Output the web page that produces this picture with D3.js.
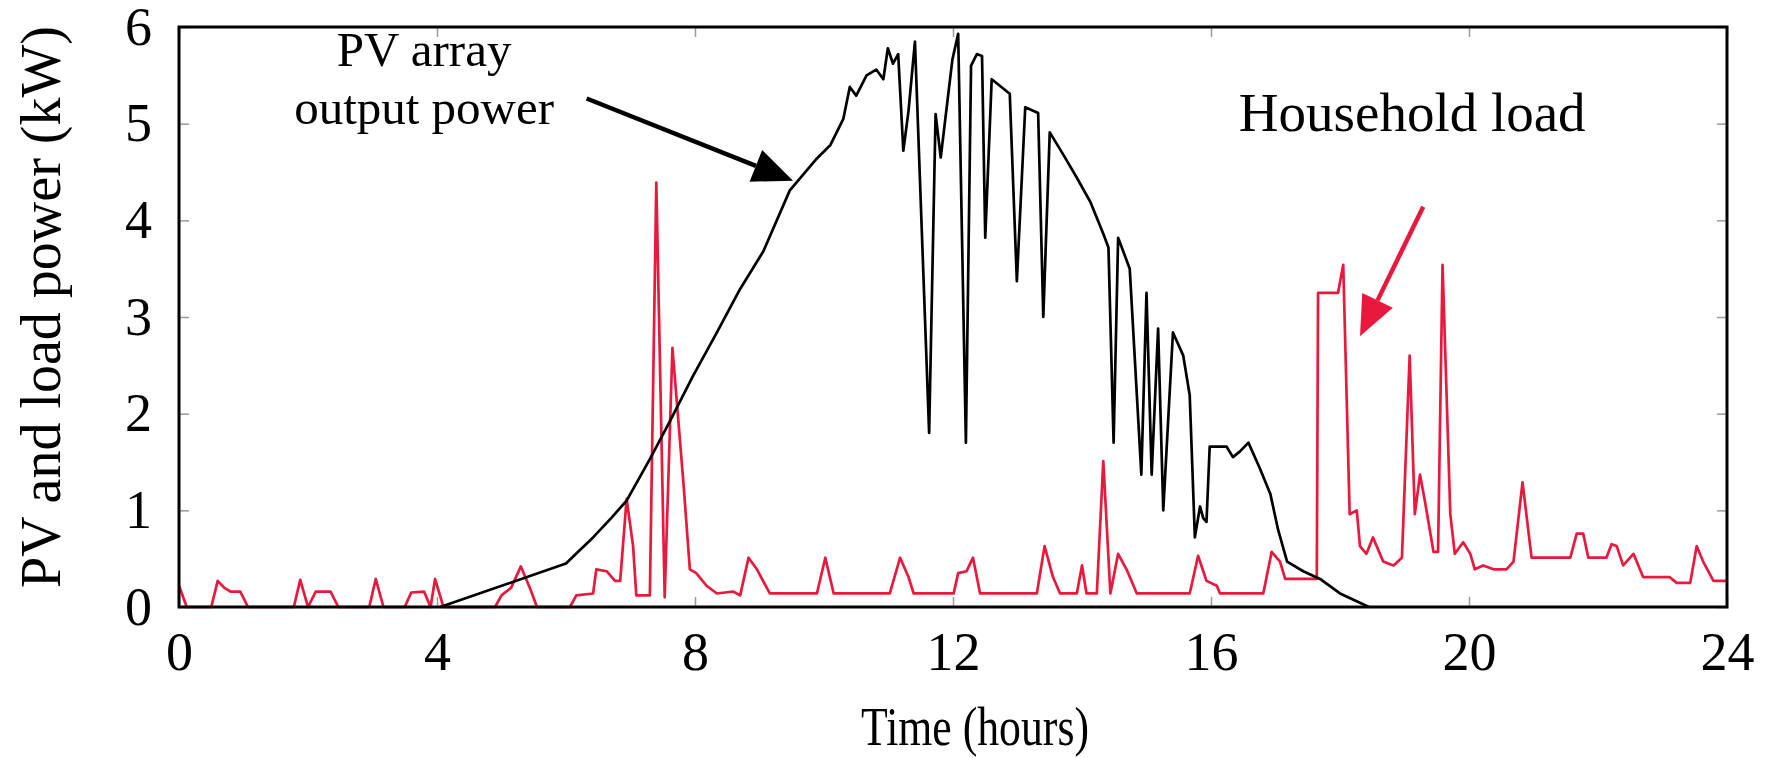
<!DOCTYPE html>
<html>
<head>
<meta charset="utf-8">
<script src="https://cdn.jsdelivr.net/npm/d3@7"></script>
<style>
  body { margin: 0; background: #fff; }
  svg text { font-family: "Liberation Serif", "DejaVu Serif", serif; }
</style>
</head>
<body>
<svg id="chart"></svg>
<script>
// PV array output power (kW) vs time (hours)
const pvTime = [4.05, 6.0, 6.2, 6.42, 6.7, 6.94, 7.3, 7.61, 7.97, 8.34, 8.7, 9.06, 9.47, 9.89, 10.1, 10.3, 10.4, 10.5,
  10.66, 10.81, 10.92, 10.99, 11.07, 11.15, 11.23, 11.31, 11.41, 11.63, 11.73, 11.81, 11.99, 12.08, 12.2, 12.28, 12.37,
  12.45, 12.5, 12.6, 12.88, 12.99, 13.12, 13.32, 13.4, 13.5, 13.71, 13.92, 14.13, 14.33, 14.41, 14.49, 14.56, 14.74,
  14.92, 15.0, 15.08, 15.18, 15.26, 15.41, 15.57, 15.67, 15.75, 15.83, 15.88, 15.93, 15.98, 16.24, 16.34, 16.45, 16.58,
  16.76, 16.92, 17.04, 17.18, 17.43, 17.69, 18.0, 18.45];
const pvKW = [0, 0.45, 0.58, 0.72, 0.92, 1.1, 1.53, 1.92, 2.39, 2.84, 3.29, 3.68, 4.31, 4.64, 4.78, 5.05, 5.38, 5.29,
  5.5, 5.56, 5.46, 5.78, 5.62, 5.72, 4.72, 5.13, 5.85, 1.8, 5.1, 4.65, 5.66, 5.93, 1.7, 5.6, 5.72,
  5.7, 3.82, 5.46, 5.31, 3.37, 5.17, 5.11, 3.0, 4.91, 4.68, 4.44, 4.19, 3.86, 3.72, 1.7, 3.82, 3.5,
  1.37, 3.25, 1.37, 2.88, 1.0, 2.84, 2.6, 2.19, 0.72, 1.04, 0.92, 0.88, 1.66, 1.66, 1.55, 1.61, 1.7,
  1.43, 1.17, 0.8, 0.47, 0.37, 0.29, 0.14, 0];

// household load (kW) vs time (hours)
const loadTime = [0, 0.12, 0.5, 0.6, 0.7, 0.8, 0.95, 1.07, 1.78, 1.88, 2.0, 2.12, 2.35, 2.47, 2.95, 3.05, 3.17, 3.5,
  3.6, 3.8, 3.9, 3.97, 4.1, 4.9, 5.0, 5.15, 5.3, 5.45, 5.55, 6.06, 6.16, 6.42, 6.47, 6.63, 6.76, 6.84, 6.94, 7.04,
  7.09, 7.3, 7.4, 7.53, 7.65, 7.82, 7.92, 8.02, 8.18, 8.34, 8.59, 8.7, 8.83, 8.96, 9.16, 9.89, 10.02, 10.15, 11.02,
  11.18, 11.31, 11.39, 12.01, 12.08, 12.21, 12.31, 12.42, 13.3, 13.42, 13.55, 13.66, 13.92, 14.0, 14.07, 14.23, 14.33,
  14.44, 14.56, 14.69, 14.85, 15.67, 15.8, 15.93, 16.09, 16.14, 16.81, 16.94, 17.07, 17.15, 17.64, 17.66, 17.97, 18.05,
  18.15, 18.26, 18.31, 18.41, 18.51, 18.67, 18.83, 18.96, 19.08, 19.16, 19.24, 19.32, 19.45, 19.52, 19.59, 19.71, 19.78,
  19.91, 20.02, 20.09, 20.22, 20.38, 20.58, 20.69, 20.83, 20.97, 21.57, 21.67, 21.77, 21.85, 22.13, 22.21, 22.29, 22.39,
  22.55, 22.65, 22.7, 23.11, 23.22, 23.43, 23.53, 23.63, 23.79, 24.0];
const loadKW = [0.22, 0, 0, 0.27, 0.2, 0.16, 0.16, 0, 0, 0.28, 0, 0.16, 0.16, 0, 0, 0.29, 0, 0,
  0.15, 0.16, 0, 0.29, 0, 0, 0.12, 0.2, 0.42, 0.18, 0, 0, 0.12, 0.14, 0.39, 0.37, 0.27, 0.27, 1.12, 0.63,
  0.12, 0.12, 4.39, 0.1, 2.68, 1.29, 0.39, 0.35, 0.22, 0.14, 0.16, 0.12, 0.51, 0.39, 0.14, 0.14, 0.51, 0.14, 0.14,
  0.51, 0.31, 0.14, 0.14, 0.35, 0.37, 0.51, 0.14, 0.14, 0.63, 0.31, 0.14, 0.14, 0.43, 0.14, 0.14, 1.51,
  0.14, 0.55, 0.39, 0.14, 0.14, 0.53, 0.27, 0.22, 0.14, 0.14, 0.57, 0.47, 0.29, 0.29, 3.25, 3.25, 3.54,
  0.96, 1.0, 0.63, 0.55, 0.72, 0.47, 0.43, 0.51, 2.6, 0.96, 1.37, 1.08, 0.57, 0.57, 3.54, 0.96, 0.55,
  0.67, 0.55, 0.39, 0.43, 0.39, 0.39, 0.47, 1.29, 0.51, 0.51, 0.76, 0.76, 0.51, 0.51, 0.65, 0.63, 0.43,
  0.55, 0.39, 0.31, 0.31, 0.25, 0.25, 0.63, 0.47, 0.27, 0.27];

const xTicks = [0, 4, 8, 12, 16, 20, 24];
const yTicks = [0, 1, 2, 3, 4, 5, 6];

// annotation labels and arrows, in data units
const labels = [
  {text: 'PV array', t: 3.8, kw: 5.6, size: 49},
  {text: 'output power', t: 3.8, kw: 5.0, size: 49},
  {text: 'Household load', t: 19.12, kw: 4.92, size: 55}
];
const arrows = [
  {from: [6.32, 5.26], to: [9.52, 4.41], color: '#000'},
  {from: [19.29, 4.14], to: [18.31, 2.8], color: '#e8193c'}
];

const W = 1771, H = 758;
const red = '#e8193c';
const serif = '"Liberation Serif", "DejaVu Serif", serif';
const svg = d3.select('#chart').attr('width', W).attr('height', H);
svg.append('rect').attr('width', W).attr('height', H).attr('fill', '#fff');

const x = d3.scaleLinear().domain([0, 24]).range([179, 1727]);
const y = d3.scaleLinear().domain([0, 6]).range([607, 27]);

// inner ticks on all four sides
const tickStyle = g => {
  g.attr('font-family', null);
  g.select('.domain').remove();
  g.selectAll('.tick line').attr('stroke', '#9a9a9a').attr('stroke-width', 1.5);
  g.selectAll('.tick text').attr('fill', '#000').attr('font-size', 54).style('font-family', serif);
};
svg.append('g').attr('transform', 'translate(0,607)')
  .call(d3.axisBottom(x).tickValues(xTicks).tickSize(-10).tickPadding(25).tickFormat(d3.format('d')))
  .call(tickStyle);
svg.append('g').attr('transform', 'translate(0,27)')
  .call(d3.axisTop(x).tickValues(xTicks).tickSize(-10).tickFormat(''))
  .call(tickStyle);
svg.append('g').attr('transform', 'translate(179,0)')
  .call(d3.axisLeft(y).tickValues(yTicks).tickSize(-10).tickPadding(27).tickFormat(d3.format('d')))
  .call(tickStyle);
svg.append('g').attr('transform', 'translate(1727,0)')
  .call(d3.axisRight(y).tickValues(yTicks).tickSize(-10).tickFormat(''))
  .call(tickStyle);

// series
const line = d3.line().x(d => x(d[0])).y(d => y(d[1]));
const loadData = loadTime.map((t, i) => [t, loadKW[i]]);
const pvData = pvTime.map((t, i) => [t, pvKW[i]]);

svg.append('path').attr('d', line(loadData))
  .attr('fill', 'none').attr('stroke', red).attr('stroke-width', 2.7).attr('stroke-linejoin', 'round');
svg.append('path').attr('d', line(pvData))
  .attr('fill', 'none').attr('stroke', '#000').attr('stroke-width', 2.7).attr('stroke-linejoin', 'round');

// frame
svg.append('rect').attr('x', 179).attr('y', 27).attr('width', 1727 - 179).attr('height', 607 - 27)
  .attr('fill', 'none').attr('stroke', '#000').attr('stroke-width', 3);

// annotations
svg.selectAll('text.note').data(labels).enter().append('text')
  .attr('class', 'note')
  .attr('x', d => x(d.t)).attr('y', d => y(d.kw))
  .attr('text-anchor', 'middle').attr('font-size', d => d.size).attr('fill', '#000')
  .style('font-family', serif)
  .text(d => d.text);

arrows.forEach(a => {
  const x0 = x(a.from[0]), y0 = y(a.from[1]), x1 = x(a.to[0]), y1 = y(a.to[1]);
  const ang = Math.atan2(y1 - y0, x1 - x0);
  const len = 40, hw = 17;
  const bx = x1 - len * Math.cos(ang), by = y1 - len * Math.sin(ang);
  svg.append('line').attr('x1', x0).attr('y1', y0).attr('x2', bx).attr('y2', by)
    .attr('stroke', a.color).attr('stroke-width', 4.5);
  const pts = [[x1, y1],
    [bx + hw * Math.sin(ang), by - hw * Math.cos(ang)],
    [bx - hw * Math.sin(ang), by + hw * Math.cos(ang)]];
  svg.append('polygon').attr('points', pts.map(p => p.join(',')).join(' ')).attr('fill', a.color);
});

// axis titles
svg.append('text').attr('x', 975).attr('y', 745).attr('text-anchor', 'middle')
  .attr('font-size', 55).attr('textLength', 228).attr('lengthAdjust', 'spacingAndGlyphs')
  .style('font-family', serif).text('Time (hours)');
svg.append('text').attr('transform', 'translate(60,307) rotate(-90)').attr('text-anchor', 'middle')
  .attr('font-size', 56).style('font-family', serif).text('PV and load power (kW)');
</script>
</body>
</html>
